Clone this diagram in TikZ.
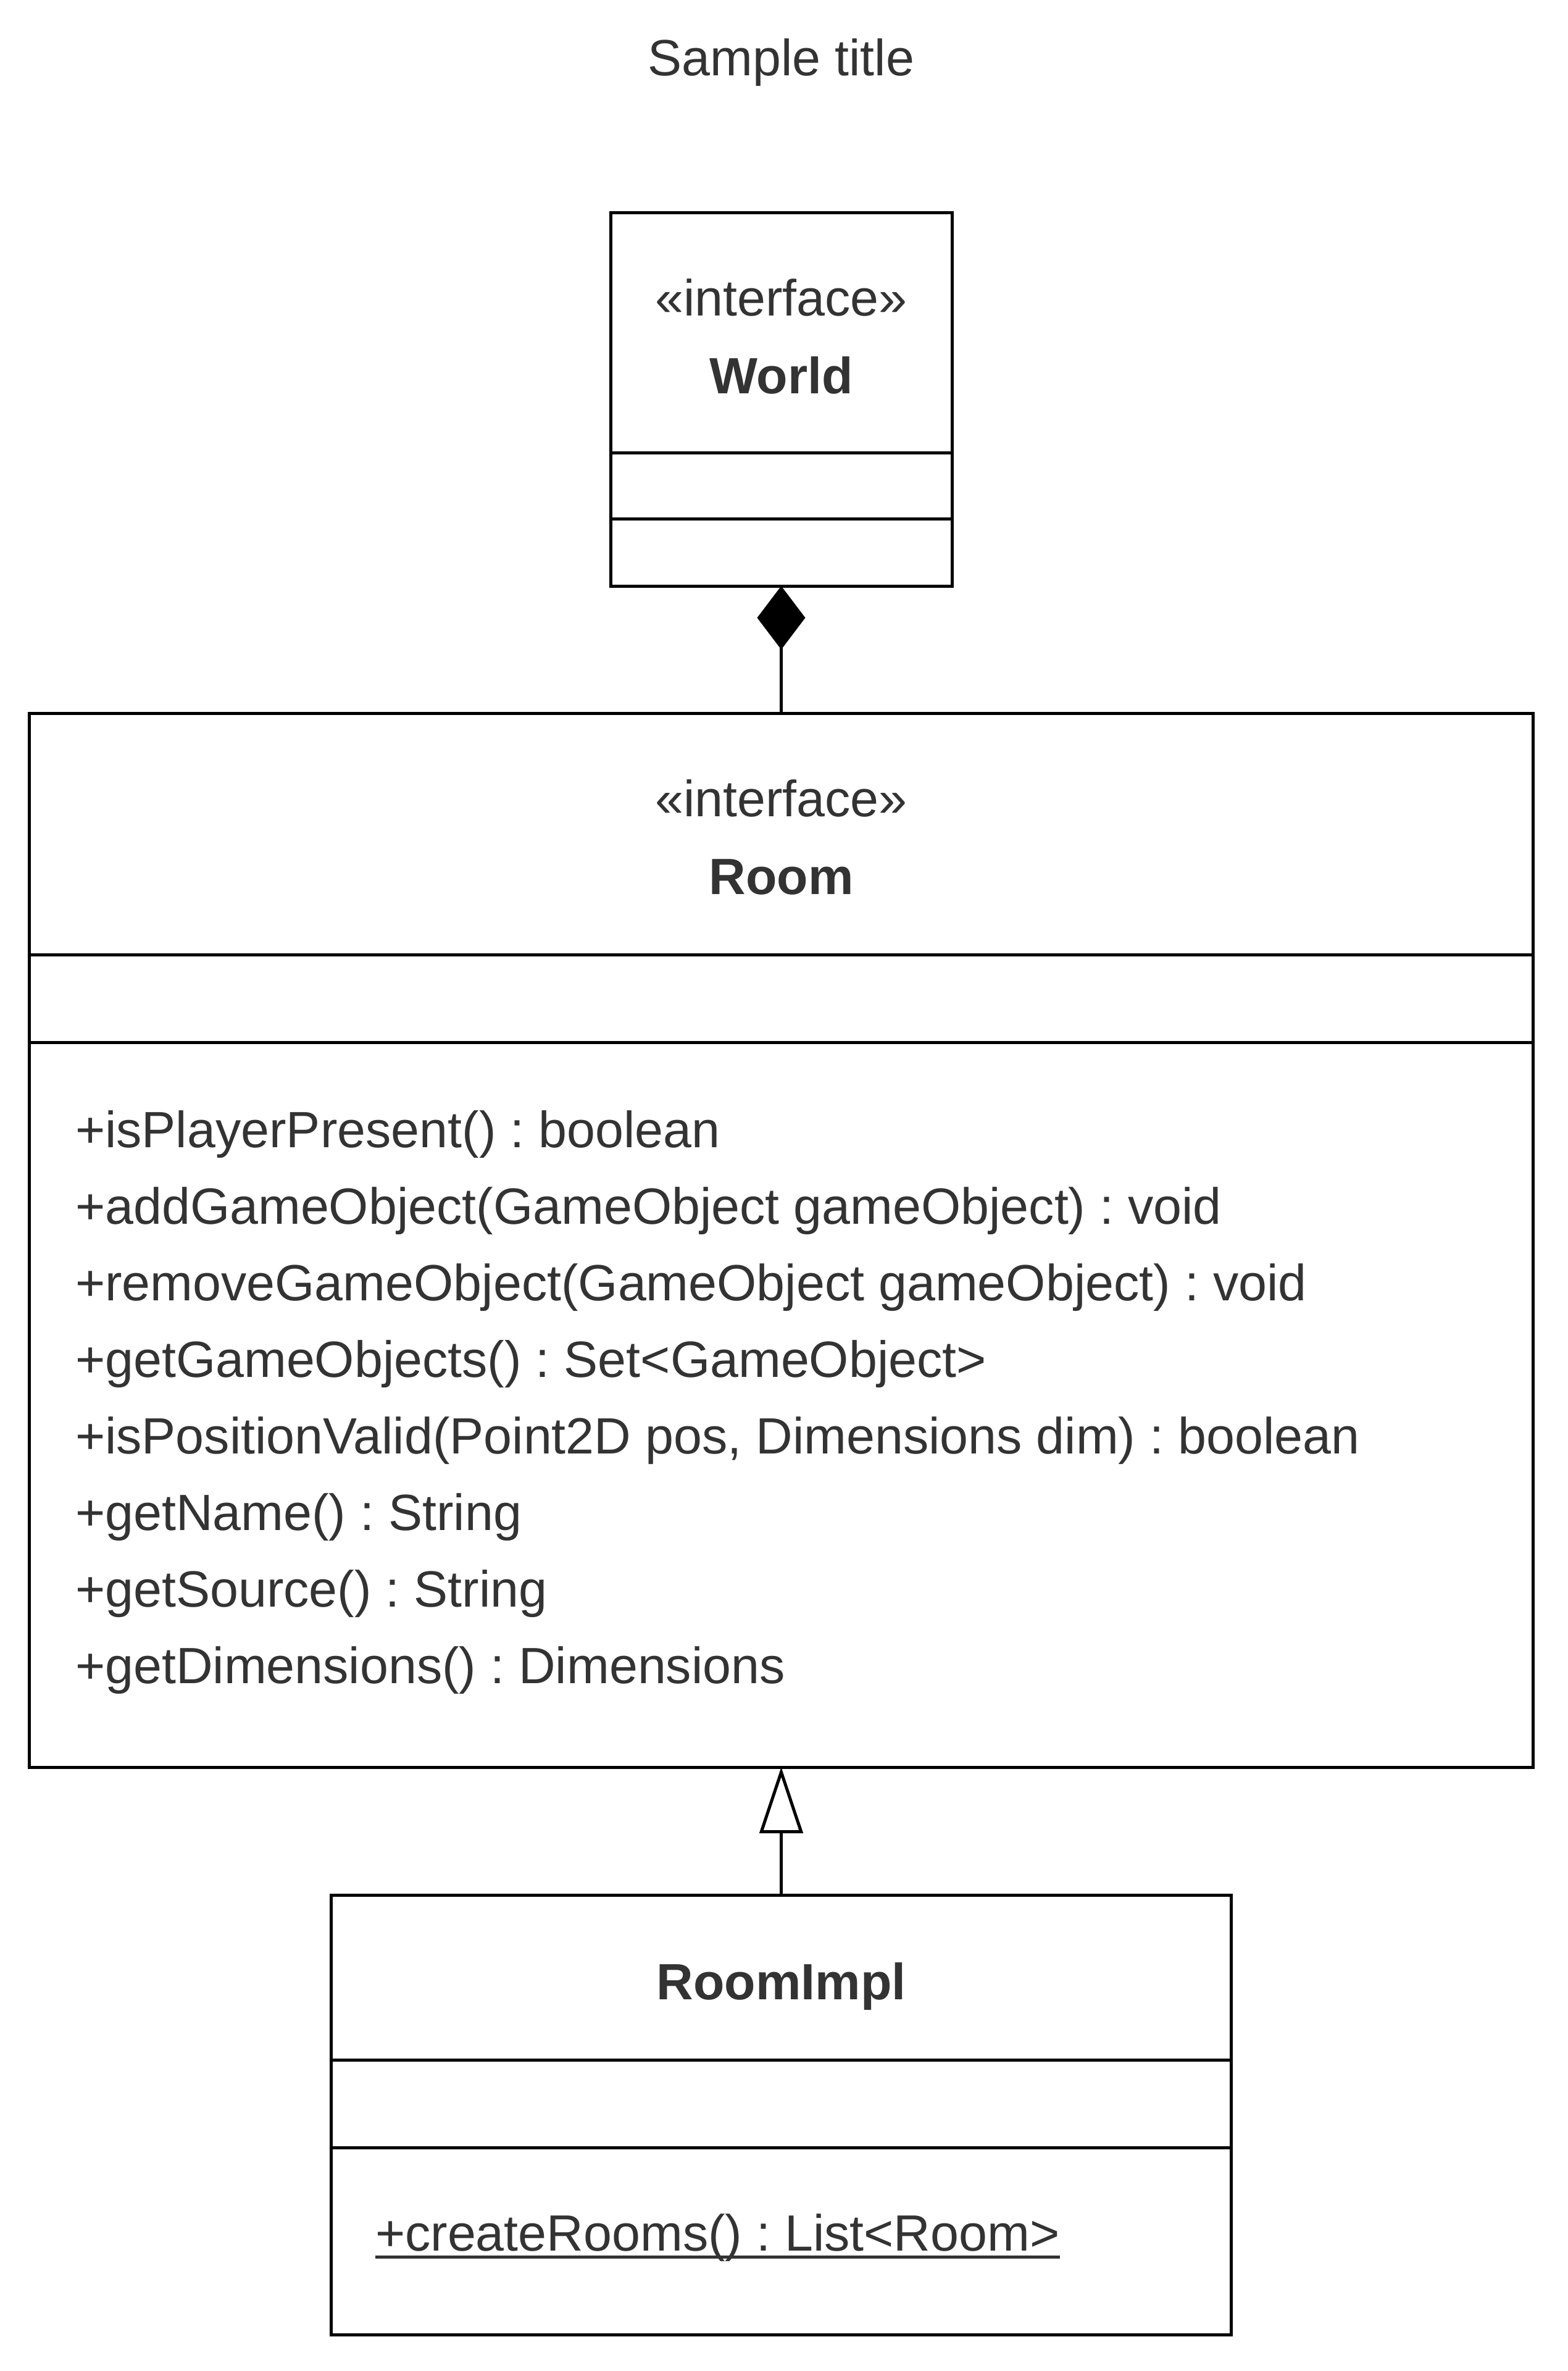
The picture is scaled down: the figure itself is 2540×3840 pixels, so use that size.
\documentclass[tikz,border=0pt]{standalone}
\usepackage{fontspec}
\setmainfont{Liberation Sans}
\usetikzlibrary{arrows.meta,calc}
\definecolor{txt}{HTML}{333333}
\frenchspacing
\begin{document}
\begin{tikzpicture}[x=0.2pt,y=-0.2pt,
  every node/.style={inner sep=0pt, outer sep=0pt},
  umlbox/.style={draw=black, line width=1pt, rectangle},
  lbl/.style={text=txt, font=\fontsize{16.52}{19.8}\selectfont\frenchspacing, anchor=base},
  meth/.style={lbl, anchor=base west},
  divider/.style={draw=black, line width=1pt},
  conn/.style={draw=black, line width=1pt}]
\useasboundingbox (0,0) rectangle (2540,3840);

% title
\node[lbl] (title) at (1265.5,122) {Sample title};

% World
\node[umlbox, minimum width=110.6pt, minimum height=121pt] (world) at (1265.5,646.5) {};
\draw[divider] (world.west |- 0,733) -- (world.east |- 0,733);
\draw[divider] (world.west |- 0,840) -- (world.east |- 0,840);
\node[lbl] (worldst) at (1265.5,511) {«interface»};
\node[lbl] (worldname) at (1265.5,637) {\bfseries World};

% Room
\node[umlbox, minimum width=487.2pt, minimum height=341.4pt] (room) at (1265.5,2008.5) {};
\draw[divider] (room.west |- 0,1546) -- (room.east |- 0,1546);
\draw[divider] (room.west |- 0,1688) -- (room.east |- 0,1688);
\node[lbl] (roomst) at (1265.5,1322) {«interface»};
\node[lbl] (roomname) at (1265.5,1448) {\bfseries Room};
\node[meth] (m1) at (122,1858) {+isPlayerPresent() : boolean};
\node[meth] (m2) at (122,1982) {+addGameObject(GameObject gameObject) : void};
\node[meth] (m3) at (122,2106) {+removeGameObject(GameObject gameObject) : void};
\node[meth] (m4) at (122,2230) {+getGameObjects() : Set<GameObject>};
\node[meth] (m5) at (122,2354) {+isPositionValid(Point2D pos, Dimensions dim) : boolean};
\node[meth] (m6) at (122,2478) {+getName() : String};
\node[meth] (m7) at (122,2602) {+getSource() : String};
\node[meth] (m8) at (122,2726) {+getDimensions() : Dimensions};

% RoomImpl
\node[umlbox, minimum width=291.6pt, minimum height=142.4pt] (impl) at (1265.5,3425) {};
\draw[divider] (impl.west |- 0,3336) -- (impl.east |- 0,3336);
\draw[divider] (impl.west |- 0,3478) -- (impl.east |- 0,3478);
\node[lbl] (implname) at (1265.5,3238) {\bfseries RoomImpl};
\node[meth] (create) at (608,3645) {+createRooms() : List<Room>};
\draw[txt, line width=1pt] ($(create.base west)+(0,10)$) -- ($(create.base east)+(0,10)$);

% connectors
\draw[conn, -{Diamond[length=20.6pt,width=15.6pt]}] (room.north) -- (world.south);
\draw[conn, -{Triangle[open,length=21.4pt,width=14pt,fill=white]}] (impl.north) -- (room.south);
\end{tikzpicture}
\end{document}
